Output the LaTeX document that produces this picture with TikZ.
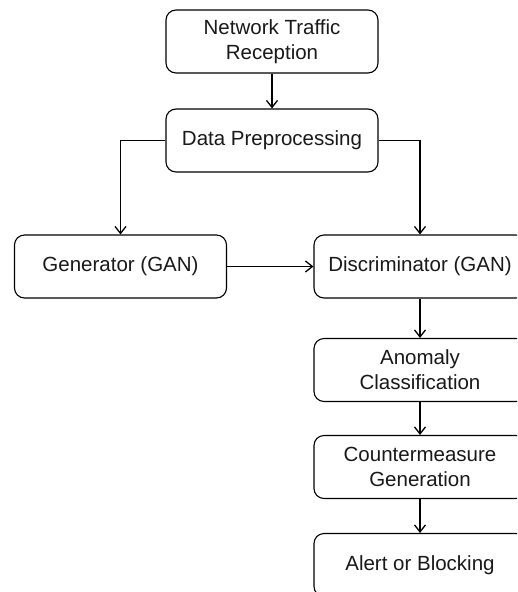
\documentclass[tikz,border=0pt]{standalone}
\usepackage{fontspec}
\setmainfont{Liberation Sans}
\usetikzlibrary{arrows.meta,positioning}
\begin{document}
\begin{tikzpicture}[x=1pt,y=-1pt,
  box/.style={draw=black,line width=1.1pt,rounded corners=10pt,
    minimum width=212pt,minimum height=63pt,align=center,
    font=\fontsize{20.5}{25}\selectfont,text=black!90,inner sep=2pt},
  flow/.style={draw=black,line width=1.3pt,-{Straight Barb[length=7pt,width=11pt,line width=1.3pt]}}]
  \clip (0,0) rectangle (517,592);
  \fill[white] (0,0) rectangle (517,592);
  \node[box] (rx)   at (272,41.5)  {Network Traffic\\Reception};
  \node[box] (prep) at (272,140.5) {Data Preprocessing};
  \node[box] (gen)  at (120.5,266.5) {Generator (GAN)};
  \node[box] (disc) at (420,266.5) {Discriminator (GAN)};
  \node[box] (anom) at (420,370)   {Anomaly\\Classification};
  \node[box] (cm)   at (420,467)   {Countermeasure\\Generation};
  \node[box] (alert) at (420,565)  {Alert or Blocking};
  \draw[flow] (rx) -- (prep);
  \draw[flow] (prep.west) -| (gen.north);
  \draw[flow] (prep.east) -| (disc.north);
  \draw[flow] (gen) -- (disc);
  \draw[flow] (disc) -- (anom);
  \draw[flow] (anom) -- (cm);
  \draw[flow] (cm) -- (alert);
\end{tikzpicture}
\end{document}
